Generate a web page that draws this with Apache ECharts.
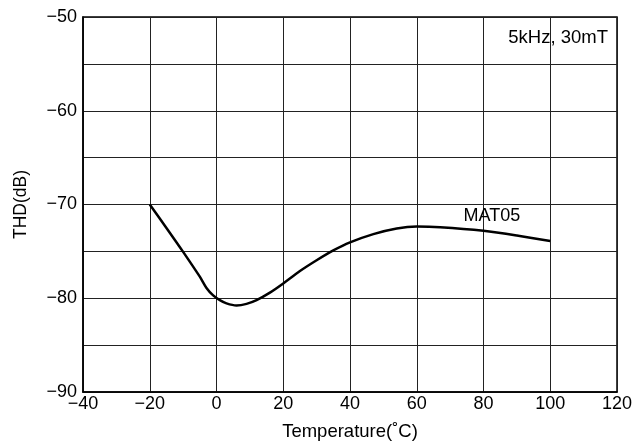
<!DOCTYPE html>
<html>
<head>
<meta charset="utf-8">
<script src="https://cdn.jsdelivr.net/npm/echarts@6/dist/echarts.min.js"></script>
<style>
  html, body { margin: 0; padding: 0; background: #fff; }
  #main { width: 640px; height: 446px; }
</style>
</head>
<body>
<div id="main"></div>
<script>
// THD vs temperature
var temps = [-20, -15, -10, -5, -3, -1, 1, 3, 6, 9, 12, 16, 20, 25, 30, 35, 40, 47, 54, 60, 67, 80, 90, 100];
var thd = [-70, -72.5, -75.05, -77.7, -78.9, -79.7, -80.2, -80.55, -80.77, -80.6, -80.2, -79.4, -78.42, -77.1, -75.95, -74.9, -74.04, -73.16, -72.56, -72.35, -72.42, -72.8, -73.3, -73.9];
var seriesName = 'MAT05';
var labelAt = [82.5, -71.25];
var noteText = '5kHz, 30mT';

var font = 'Liberation Sans';
var minus = function (v) { return String(v).replace('-', '\u2212'); };

var chart = echarts.init(document.getElementById('main'));
chart.setOption({
  animation: false,
  backgroundColor: '#fff',
  textStyle: { fontFamily: font },
  grid: { left: 83, right: 23, top: 17, bottom: 49, show: true, borderColor: '#000', borderWidth: 1.5 },
  xAxis: {
    type: 'value',
    min: -40, max: 120, interval: 20,
    name: 'Temperature(\u02daC)',
    nameLocation: 'middle',
    nameGap: 30,
    nameTextStyle: { color: '#000', fontSize: 18.5, fontFamily: font },
    axisLine: { onZero: false, lineStyle: { color: '#000', width: 1.5 } },
    axisTick: { show: false },
    axisLabel: { color: '#000', fontSize: 18, margin: 3, formatter: minus },
    splitLine: { show: true, lineStyle: { color: '#222', width: 1 } }
  },
  yAxis: {
    type: 'value',
    min: -90, max: -50, interval: 5,
    name: 'THD(dB)',
    nameLocation: 'middle',
    nameGap: 53,
    nameTextStyle: { color: '#000', fontSize: 17.5, fontFamily: font },
    axisLine: { show: true, onZero: false, lineStyle: { color: '#000', width: 1.5 } },
    axisTick: { show: false },
    axisLabel: {
      color: '#000', fontSize: 18, margin: 6,
      formatter: function (v) { return v % 10 === 0 ? minus(v) : ''; }
    },
    splitLine: { show: true, lineStyle: { color: '#222', width: 1 } }
  },
  series: [{
    name: seriesName,
    type: 'line',
    data: temps.map(function (t, i) { return [t, thd[i]]; }),
    smooth: 0.3,
    showSymbol: false,
    lineStyle: { color: '#000', width: 2.5 },
    markPoint: {
      symbol: 'circle',
      symbolSize: 0,
      data: [{ coord: labelAt }],
      label: {
        show: true, formatter: seriesName, color: '#000',
        fontSize: 18, fontFamily: font, position: 'inside'
      }
    }
  }],
  graphic: [{
    type: 'rect',
    right: 28, top: 22,
    shape: { width: 112, height: 29 },
    style: { fill: '#fff' }
  }, {
    type: 'text',
    right: 32, top: 28,
    style: { text: noteText, fill: '#000', fontSize: 18.5, fontFamily: font }
  }]
});
</script>
</body>
</html>
